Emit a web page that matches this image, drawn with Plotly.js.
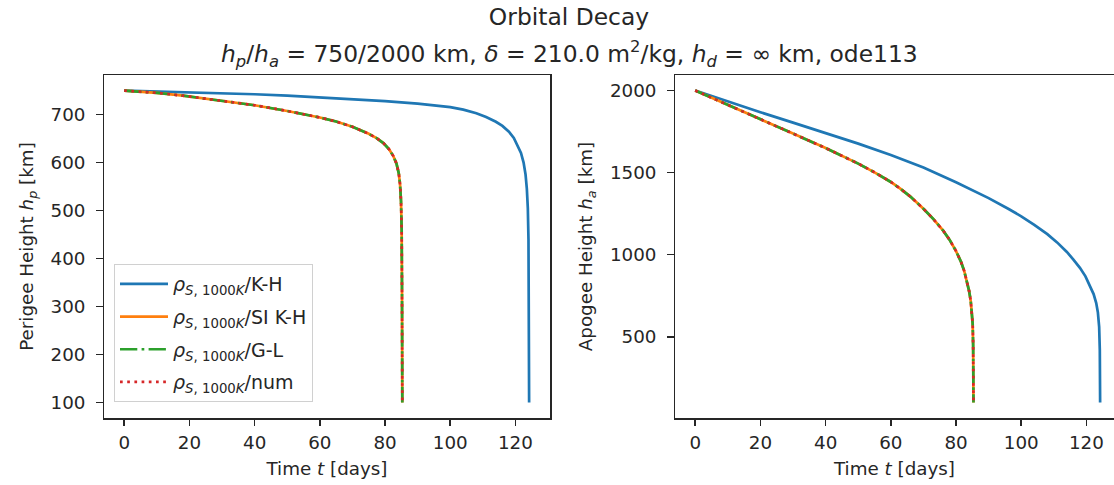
<!DOCTYPE html>
<html>
<head>
<meta charset="utf-8">
<script src="https://cdn.plot.ly/plotly-3.0.1.min.js"></script>
<style>html,body{margin:0;padding:0;background:#fff;}#chart{width:1114px;height:485px;}</style>
</head>
<body>
<div id="chart"></div>
<script>
// Perigee height, K-H model
const tHpKH = [0,10,20,30,40,50,60,70,80,90,100,104,108,111,114,116,118,119.5,120.7,121.7,122.5,123.1,123.5,123.8,124.0,124.1,124.2];
const hpKH  = [750,748.3,746.5,744.6,742.4,739.6,736,732,728,723,715.5,710.3,702.7,694.9,685,676.4,664.4,651.4,636,620,600,575,545,505,440,330,100];
// Perigee height, SI K-H / G-L / num (overlapping)
const tHpSI = [0,10,18,25,33.5,40,50,55,60,65,70,75,77.4,79.5,81.2,82.5,83.5,84.2,84.6,84.9,85.1,85.2,85.3];
const hpSI  = [750,745.3,739.4,733.5,726,719.5,707.5,701,694,685.5,674.5,660,651,640.5,628,614,598,578,555,520,460,340,100];
// Apogee height, K-H model
const tHaKH = [0,10,20,30,40,50,60,70,80,90,96,100,104,108,111,114,116,118,119.7,121,122.2,123,123.5,123.9,124.1,124.2];
const haKH  = [2000,1933,1868,1805,1742,1677,1608,1532,1442,1345,1280,1234,1182,1125,1075,1017,970,920,868,815,760,705,650,560,420,100];
// Apogee height, SI K-H / G-L / num (overlapping)
const tHaSI = [0,10,20,30,40,45,50,55,60,63,66,70,73,76,78,80,81.5,82.5,83.3,84,84.5,84.9,85.1,85.25,85.35];
const haSI  = [2000,1914,1827,1738,1650,1603,1555,1502,1443,1401,1354,1280,1218,1148,1092,1022,958,902,845,780,720,650,580,450,100];

const seriesNames = [
  '<i>ρ</i><sub><i>S</i>, 1000<i>K</i></sub>/K-H',
  '<i>ρ</i><sub><i>S</i>, 1000<i>K</i></sub>/SI K-H',
  '<i>ρ</i><sub><i>S</i>, 1000<i>K</i></sub>/G-L',
  '<i>ρ</i><sub><i>S</i>, 1000<i>K</i></sub>/num'
];
const xTicks = [0,20,40,60,80,100,120];
const hpTicks = [100,200,300,400,500,600,700];
const haTicks = [500,1000,1500,2000];

const colors = ['#1f77b4','#ff7f0e','#2ca02c','#d62728'];
const dashes = ['solid','solid','17.3px,4.3px,2.7px,4.3px','2.7px,4.5px'];
const W = 1114, H = 485;
const LW = 2.7;
const FS = 18.3, TFS = 23.4;
const CX = 569/W;

const leftData = [[tHpKH,hpKH],[tHpSI,hpSI],[tHpSI,hpSI],[tHpSI,hpSI]];
const rightData = [[tHaKH,haKH],[tHaSI,haSI],[tHaSI,haSI],[tHaSI,haSI]];

const traces = [];
leftData.forEach((d,i)=>{
  traces.push({x:d[0], y:d[1], type:'scatter', mode:'lines', name:seriesNames[i],
    legendgroup:'g'+i, xaxis:'x', yaxis:'y',
    line:{color:colors[i], width:LW, dash:dashes[i]}, showlegend:true});
});
rightData.forEach((d,i)=>{
  traces.push({x:d[0], y:d[1], type:'scatter', mode:'lines', name:seriesNames[i],
    legendgroup:'g'+i, xaxis:'x2', yaxis:'y2',
    line:{color:colors[i], width:LW, dash:dashes[i]}, showlegend:false});
});

const txt = {family:'DejaVu Sans', size:FS, color:'#262626'};
const axisCommon = {
  showgrid:false, zeroline:false, showline:true, linecolor:'#262626', linewidth:1.5,
  ticks:'outside', ticklen:6.4, tickwidth:1.5, tickcolor:'#262626',
  tickfont:txt, automargin:false
};
const yBot = (H-418)/H, yTop = (H-75)/H;
const xr2 = -6.2 + (W-675)*136.8/446;

const layout = {
  width:W, height:H,
  margin:{l:0,r:0,t:0,b:0},
  paper_bgcolor:'#fff', plot_bgcolor:'#fff',
  font:txt,
  title:{text:'Orbital Decay', x:CX, xanchor:'center', y:1-17/H, yanchor:'middle',
    font:{family:'DejaVu Sans', size:TFS, color:'#262626'}},
  annotations:[{
    text:'<i>h</i><sub><i>p</i></sub>/<i>h</i><sub><i>a</i></sub> = 750/2000 km, <i>δ</i> = 210.0 m<sup>2</sup>/kg, <i>h</i><sub><i>d</i></sub> = ∞ km, ode113',
    xref:'paper', yref:'paper', x:CX, y:1-54/H, xanchor:'center', yanchor:'middle',
    showarrow:false, font:{family:'DejaVu Sans', size:TFS, color:'#262626'}
  }],
  xaxis: Object.assign({}, axisCommon, {domain:[104/W, 550/W], range:[-6.2,130.6], anchor:'y',
    tickvals:xTicks, mirror:true, ticklabelstandoff:1,
    title:{text:'Time <i>t</i> [days]', standoff:10, font:txt}}),
  yaxis: Object.assign({}, axisCommon, {domain:[yBot,yTop], range:[67.5,782.5], anchor:'x',
    tickvals:hpTicks, mirror:true, ticklabelstandoff:7,
    title:{text:'Perigee Height <i>h</i><sub><i>p</i></sub> [km]', standoff:12, font:txt}}),
  xaxis2: Object.assign({}, axisCommon, {domain:[675/W, 1], range:[-6.2,xr2], anchor:'y2',
    tickvals:xTicks, mirror:true, ticklabelstandoff:1,
    title:{text:'Time <i>t</i> [days]', standoff:10, font:txt}}),
  yaxis2: Object.assign({}, axisCommon, {domain:[yBot,yTop], range:[5,2095], anchor:'x2',
    tickvals:haTicks, mirror:false, ticklabelstandoff:7,
    title:{text:'Apogee Height <i>h</i><sub><i>a</i></sub> [km]', standoff:12, font:txt}}),
  showlegend:true,
  legend:{x:114/W, y:1-264/H, xanchor:'left', yanchor:'top', bgcolor:'rgba(255,255,255,0.8)',
    bordercolor:'#d0d0d0', borderwidth:1, tracegroupgap:5, itemwidth:48,
    font:{family:'DejaVu Sans', size:19, color:'#262626'}}
};

Plotly.newPlot('chart', traces, layout, {staticPlot:true});
</script>
</body>
</html>
